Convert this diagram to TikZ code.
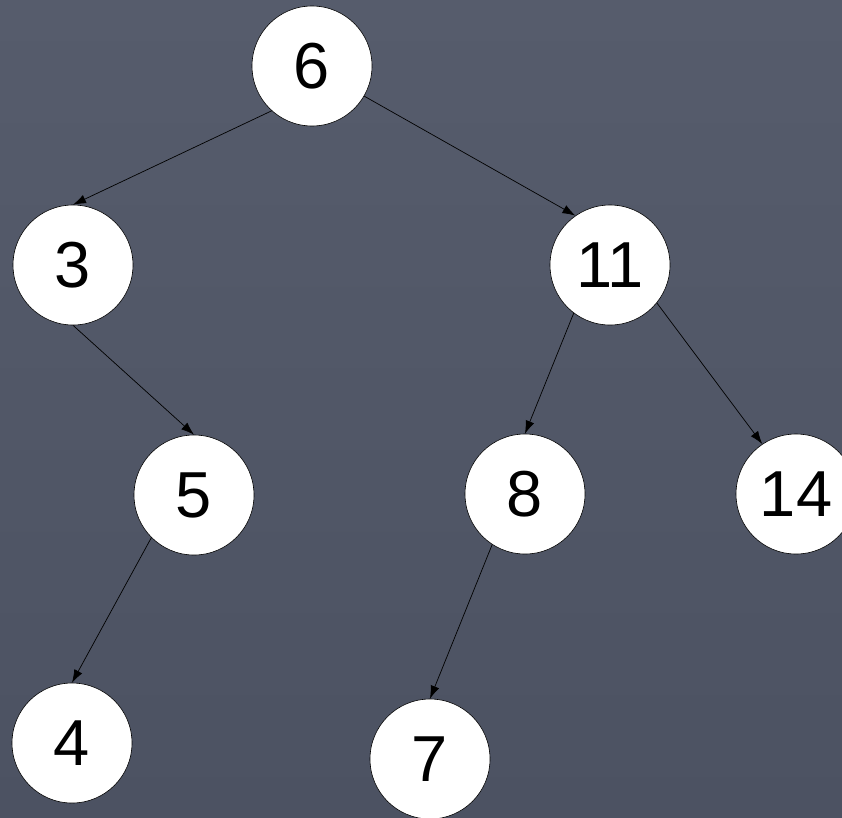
\documentclass[tikz,border=0pt]{standalone}
\usepackage{fontspec}
\setmainfont{Liberation Sans}
\usetikzlibrary{arrows.meta}
\definecolor{board}{RGB}{76,82,98}
\definecolor{boardlight}{RGB}{86,92,108}
\tikzset{
  bst/.style={circle, draw=black, line width=0.6pt, fill=white, minimum size=120pt, inner sep=0pt, font=\fontsize{65}{65}\selectfont},
  edge/.style={draw=black, line width=0.7pt, -{Latex[length=13pt,width=9pt]}}
}
\begin{document}
\begin{tikzpicture}[x=1pt,y=-1pt]
\useasboundingbox (0,0) rectangle (842,817);
\clip (0,0) rectangle (842,817);
\shade[top color=boardlight, bottom color=board] (0,0) rectangle (842,817);
\node[bst] (n6) at (312,66) {6};
\node[bst] (n3) at (73,265) {3};
\node[bst] (n11) at (610,265) {11};
\node[bst] (n5) at (194,495) {5};
\node[bst] (n8) at (525,494) {8};
\node[bst] (n14) at (796,494) {14};
\node[bst] (n4) at (72,743) {4};
\node[bst] (n7) at (430,759) {7};
\draw[edge] (n6.228) -- (n3.north);
\draw[edge] (n6.330) -- (n11.125);
\draw[edge] (n3.south) -- (n5.north);
\draw[edge] (n11.233) -- (n8.north);
\draw[edge] (n11.321) -- (n14.124);
\draw[edge] (n5.225) -- (n4.north);
\draw[edge] (n8.237) -- (n7.north);
\end{tikzpicture}
\end{document}
